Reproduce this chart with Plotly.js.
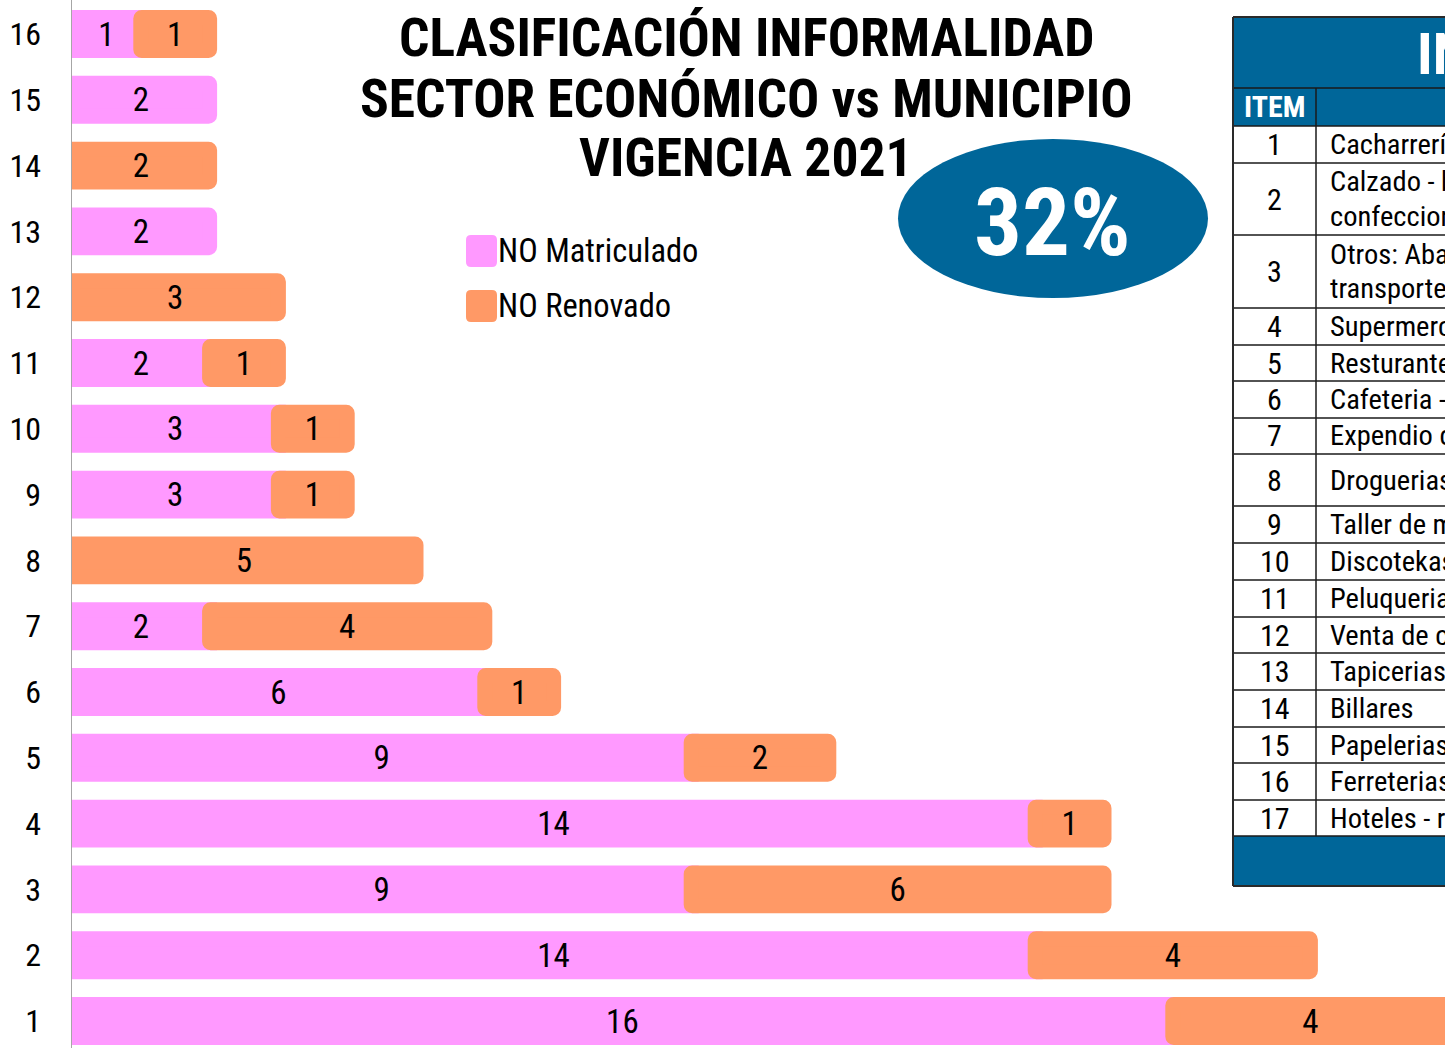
<!DOCTYPE html>
<html>
<head>
<meta charset="utf-8">
<script src="https://cdn.plot.ly/plotly-3.0.1.min.js"></script>
<style>html,body{margin:0;padding:0;background:#fff;}#chart{width:1445px;height:1048px;}</style>
</head>
<body>
<div id="chart"></div>
<script>
// ---------- DATA ----------
const categories = [1, 2, 3, 4, 5, 6, 7, 8, 9, 10, 11, 12, 13, 14, 15, 16];
const noMatriculado = [16, 14, 9, 14, 9, 6, 2, 0, 3, 3, 2, 0, 2, 0, 2, 1];
const noRenovado   = [4, 4, 6, 1, 2, 1, 4, 5, 1, 1, 1, 3, 0, 2, 0, 1];
const seriesNames = ['NO Matriculado', 'NO Renovado'];
const titleLines = ['CLASIFICACIÓN INFORMALIDAD', 'SECTOR ECONÓMICO vs MUNICIPIO', 'VIGENCIA 2021'];
const percentLabel = '32%';
const tableTitle = 'INFORMALIDAD POR SECTOR ECONÓMICO';
const tableItemHeader = 'ITEM';
const tableItems = [1, 2, 3, 4, 5, 6, 7, 8, 9, 10, 11, 12, 13, 14, 15, 16, 17];
const tableSectors = [
  'Cacharrería - miscelánea',
  'Calzado - boutique - ropa y\nconfecciones',
  'Otros: Abastos, servicios de\ntransporte, comunicaciones',
  'Supermercados - tiendas',
  'Resturantes - comidas rápidas',
  'Cafeteria - panadería',
  'Expendio de carnes',
  'Droguerias',
  'Taller de motos',
  'Discotekas - bares',
  'Peluquerias - salas de belleza',
  'Venta de celulares',
  'Tapicerias',
  'Billares',
  'Papelerias',
  'Ferreterias',
  'Hoteles - residencias'
];

// ---------- STYLE / LAYOUT CONSTANTS ----------
const W = 1445, H = 1048, ML = 72;
const PINK = '#FF99FF', ORANGE = '#FF9966', BLUE = '#006699';
const FONT = '"Roboto Condensed", "DejaVu Sans Condensed", sans-serif';
const PX_PER_UNIT = 68.8;
const ROW_PX = 65.8;
const rowEdges = [17, 88, 126, 163, 235, 308, 345, 381, 418, 454, 506, 543, 580, 617, 653, 690, 727, 763, 800, 836, 886];
const tblX0 = 1233, tblXdiv = 1316, tblX1 = 1460;

const px2x = p => (p - ML) / (W - ML);
const py2y = p => 1 - p / H;

function roundRect(x0, y0, x1, y1, r) {
  const P = (x, y) => px2x(x).toFixed(5) + ',' + py2y(y).toFixed(5);
  return 'M' + P(x0 + r, y0) + ' L' + P(x1 - r, y0) + ' Q' + P(x1, y0) + ' ' + P(x1, y0 + r) +
    ' L' + P(x1, y1 - r) + ' Q' + P(x1, y1) + ' ' + P(x1 - r, y1) +
    ' L' + P(x0 + r, y1) + ' Q' + P(x0, y1) + ' ' + P(x0, y1 - r) +
    ' L' + P(x0, y0 + r) + ' Q' + P(x0, y0) + ' ' + P(x0 + r, y0) + ' Z';
}

// ---------- TRACES ----------
const pinkX = noMatriculado.map(v => v > 0 ? v : null);
const orangeX = noRenovado.map(v => v > 0 ? v : null);
const orangeBase = noMatriculado.slice();

const barCommon = {
  type: 'bar', orientation: 'h', y: categories, width: 0.5,
  textposition: 'inside', insidetextanchor: 'middle', textangle: 0,
  constraintext: 'none', cliponaxis: true,
  insidetextfont: {family: FONT, size: 33, color: '#000'},
  hoverinfo: 'skip'
};
const traces = [
  Object.assign({}, barCommon, {
    name: seriesNames[0], x: pinkX,
    text: pinkX.map(v => v === null ? '' : String(v)),
    marker: {color: PINK, line: {color: PINK, width: 15}, cornerradius: 1}
  }),
  Object.assign({}, barCommon, {
    name: seriesNames[1], x: orangeX, base: orangeBase,
    text: orangeX.map(v => v === null ? '' : String(v)),
    marker: {color: ORANGE, line: {color: ORANGE, width: 15}, cornerradius: 1}
  })
];

// ---------- SHAPES & ANNOTATIONS ----------
const shapes = [];
const annotations = [];

// Title
const titleY = [38, 98, 158];
titleLines.forEach((t, i) => annotations.push({
  xref: 'paper', yref: 'paper', x: px2x(746), y: py2y(titleY[i]), xanchor: 'center', yanchor: 'middle',
  text: '<b>' + t + '</b>', showarrow: false, font: {family: FONT, size: 53.5, color: '#000'}
}));

// Ellipse with percentage
shapes.push({type: 'circle', xref: 'paper', yref: 'paper', x0: px2x(898), x1: px2x(1208), y0: py2y(298), y1: py2y(139),
  fillcolor: BLUE, line: {width: 0}, layer: 'above'});
annotations.push({xref: 'paper', yref: 'paper', x: px2x(1052), y: py2y(222), xanchor: 'center', yanchor: 'middle',
  text: '<b>' + percentLabel + '</b>', showarrow: false, font: {family: FONT, size: 95, color: '#fff'}});

// Manual legend
const legendColors = [PINK, ORANGE];
const legendY = [251, 306];
seriesNames.forEach((n, i) => {
  shapes.push({type: 'path', xref: 'paper', yref: 'paper', path: roundRect(466, legendY[i] - 16, 497, legendY[i] + 16, 5),
    fillcolor: legendColors[i], line: {width: 0}, layer: 'above'});
  annotations.push({xref: 'paper', yref: 'paper', x: px2x(498), y: py2y(legendY[i]), xanchor: 'left', yanchor: 'middle',
    text: n, showarrow: false, xshift: -2, font: {family: FONT, size: 32.5, color: '#000'}});
});

// Table
shapes.push({type: 'rect', xref: 'paper', yref: 'paper', x0: px2x(tblX0), x1: px2x(tblX1), y0: py2y(rowEdges[2]), y1: py2y(rowEdges[0]),
  fillcolor: BLUE, line: {width: 0}, layer: 'above'});
shapes.push({type: 'rect', xref: 'paper', yref: 'paper', x0: px2x(tblX0), x1: px2x(tblX1), y0: py2y(rowEdges[rowEdges.length - 1]), y1: py2y(rowEdges[rowEdges.length - 2]),
  fillcolor: BLUE, line: {width: 0}, layer: 'above'});
rowEdges.forEach((e, i) => {
  const outer = (i === 0 || i === rowEdges.length - 1);
  shapes.push({type: 'line', xref: 'paper', yref: 'paper', x0: px2x(tblX0), x1: px2x(tblX1), y0: py2y(e), y1: py2y(e),
    line: {color: outer ? '#2a2a2a' : '#1a1a1a', width: outer ? 2 : 1.5}, layer: 'above'});
});
shapes.push({type: 'line', xref: 'paper', yref: 'paper', x0: px2x(tblXdiv), x1: px2x(tblXdiv), y0: py2y(rowEdges[1]), y1: py2y(rowEdges[rowEdges.length - 2]),
  line: {color: '#1a1a1a', width: 1.5}, layer: 'above'});
shapes.push({type: 'line', xref: 'paper', yref: 'paper', x0: px2x(tblX0), x1: px2x(tblX0), y0: py2y(rowEdges[0]), y1: py2y(rowEdges[rowEdges.length - 1]),
  line: {color: '#2a2a2a', width: 2}, layer: 'above'});

annotations.push({xref: 'paper', yref: 'paper', x: px2x(1415), y: py2y(54), xanchor: 'left', yanchor: 'middle',
  text: '<b>' + tableTitle + '</b>', showarrow: false, font: {family: FONT, size: 58, color: '#fff'}});
annotations.push({xref: 'paper', yref: 'paper', x: px2x((tblX0 + tblXdiv) / 2), y: py2y((rowEdges[1] + rowEdges[2]) / 2), xanchor: 'center', yanchor: 'middle',
  text: '<b>' + tableItemHeader + '</b>', showarrow: false, font: {family: FONT, size: 30, color: '#fff'}});

tableItems.forEach((it, i) => {
  const top = rowEdges[i + 2], bot = rowEdges[i + 3], mid = (top + bot) / 2;
  annotations.push({xref: 'paper', yref: 'paper', x: px2x((tblX0 + tblXdiv) / 2), y: py2y(mid), xanchor: 'center', yanchor: 'middle',
    text: String(it), showarrow: false, font: {family: FONT, size: 30, color: '#000'}});
  const lines = tableSectors[i].split('\n');
  const LS = 34;
  lines.forEach((ln, j) => {
    const y = mid + (j - (lines.length - 1) / 2) * LS;
    annotations.push({xref: 'paper', yref: 'paper', x: px2x(1330), y: py2y(y), xanchor: 'left', yanchor: 'middle',
      text: ln, showarrow: false, xshift: -2, font: {family: FONT, size: 28.5, color: '#000'}});
  });
});

// ---------- LAYOUT ----------
const yTop = 16 + 34 / ROW_PX;
const yBot = yTop - H / ROW_PX;
const layout = {
  width: W, height: H, autosize: false,
  margin: {l: ML, r: 0, t: 0, b: 0, pad: 0},
  paper_bgcolor: '#fff', plot_bgcolor: '#fff',
  barmode: 'overlay', showlegend: false,
  font: {family: FONT, size: 33, color: '#000'},
  xaxis: {visible: false, range: [0, (W - ML) / PX_PER_UNIT], fixedrange: true},
  yaxis: {range: [yBot, yTop], tickvals: categories, ticktext: categories.map(String), ticks: '',
    showgrid: false, zeroline: false, showline: true, linecolor: '#A6A6A6', linewidth: 1.5,
    ticklabelstandoff: 23, automargin: false, tickfont: {family: FONT, size: 32, color: '#000'}, fixedrange: true},
  shapes: shapes,
  annotations: annotations
};

Plotly.newPlot('chart', traces, layout, {displayModeBar: false, staticPlot: true});
</script>
</body>
</html>
